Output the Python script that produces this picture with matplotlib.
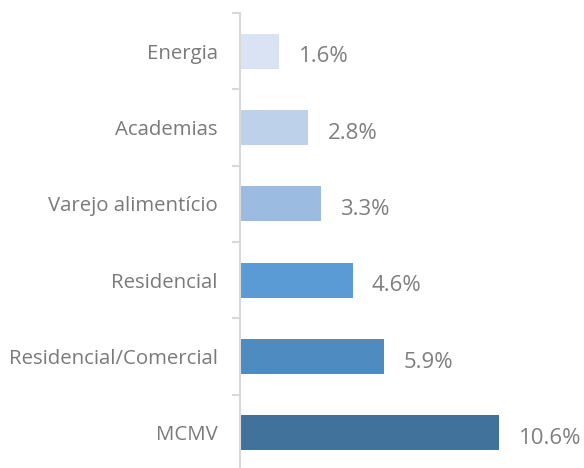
import numpy as np
import matplotlib.pyplot as plt

categories = ['Energia', 'Academias', 'Varejo alimentício', 'Residencial',
              'Residencial/Comercial', 'MCMV']
values = [1.6, 2.8, 3.3, 4.6, 5.9, 10.6]
colors = ['#DAE3F3', '#BDD1EB', '#9CBBE1', '#5B9BD5', '#4E8BC0', '#41729C']

plt.rcParams['font.family'] = ['Open Sans', 'DejaVu Sans']

fig = plt.figure(figsize=(5.84, 4.68), dpi=100)
ax = fig.add_axes([240 / 584, -3 / 468, 318 / 584, 458 / 468])

y = np.arange(len(categories))
ax.barh(y, values, height=0.46, color=colors)
ax.set_ylim(len(categories) - 0.5, -0.5)
ax.set_xlim(0, 13)

for yi, v in zip(y, values):
    ax.annotate('{:.1f}%'.format(v), (v, yi), xytext=(14, -4), textcoords='offset points',
                va='center', ha='left', fontsize=16, color='#7F7F7F')

ax.set_yticks(y)
ax.set_yticklabels(categories, fontsize=14.7, color='#7A7A7A')
ax.set_yticks(np.arange(-0.5, len(categories), 1), minor=True)
ax.tick_params(axis='y', which='major', length=0, pad=16)
ax.tick_params(axis='y', which='minor', length=6, width=1.5, color='#D9D9D9')
ax.set_xticks([])

for s in ['top', 'right', 'bottom']:
    ax.spines[s].set_visible(False)
ax.spines['left'].set_color('#D9D9D9')
ax.spines['left'].set_linewidth(1.5)

fig.savefig('out.png', dpi=100)
